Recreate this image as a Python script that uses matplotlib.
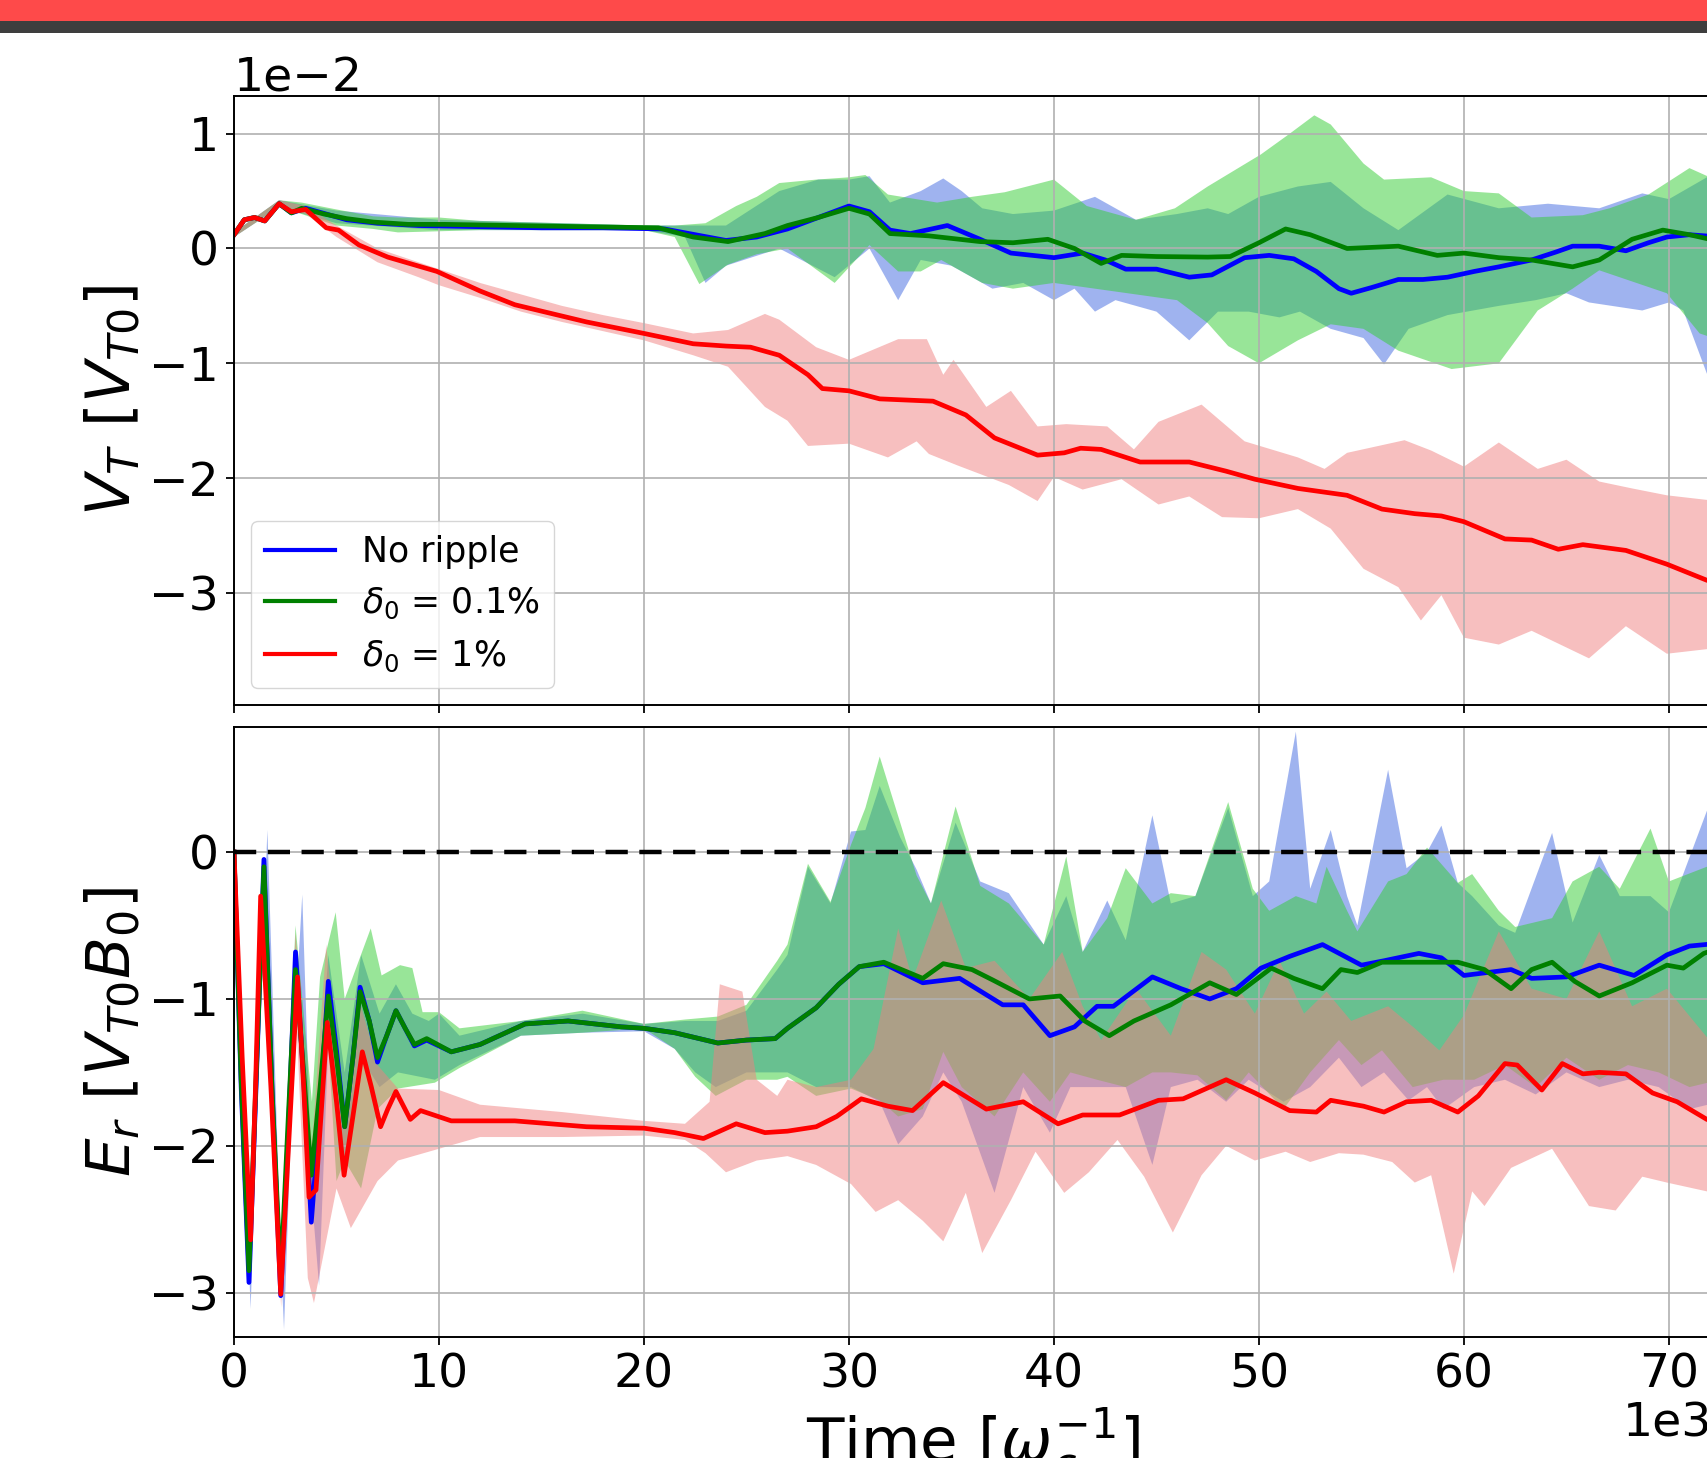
import numpy as np
import matplotlib
matplotlib.use("Agg")
import matplotlib.pyplot as plt
from matplotlib.patches import Rectangle

# ---------------- data (time in units of 1e3 / omega_c) ----------------
# Top panel: V_T in units of 1e-2 V_T0
t_vt_blue = [0, 0.5, 1.0, 1.5, 2.2, 2.8, 3.5, 4.5, 5.5, 7, 9, 12, 15, 18, 21, 22.5, 24, 25.5, 27, 28.5, 30, 31,
             32, 33, 34.8, 36.4, 37.9, 40, 41.4, 42.5, 43.5, 45, 46.6, 47.7, 49.3, 50.5, 51.7, 52.8, 53.9, 54.5,
             55.5, 56.8, 58, 59.2, 60.5, 61.7, 63.3, 64.5, 65.3, 66.6, 67.9, 69, 69.9, 71, 72.5]
vt_blue = [0.12, 0.25, 0.27, 0.24, 0.39, 0.31, 0.35, 0.3, 0.25, 0.22, 0.2, 0.19, 0.18, 0.18, 0.17, 0.12, 0.07,
           0.1, 0.17, 0.27, 0.37, 0.32, 0.16, 0.13, 0.2, 0.08, -0.04, -0.08, -0.04, -0.1, -0.18, -0.18, -0.25,
           -0.23, -0.08, -0.06, -0.09, -0.2, -0.35, -0.39, -0.34, -0.27, -0.27, -0.25, -0.2, -0.16, -0.1, -0.03,
           0.02, 0.02, -0.02, 0.05, 0.1, 0.12, 0.1]

t_vt_green = [0, 0.5, 1.0, 1.5, 2.2, 2.8, 3.3, 4.4, 5.5, 6.8, 8.5, 10.3, 13.7, 17, 20.7, 22.4, 24.1, 25.9, 27,
              28.5, 30, 31, 32, 33.9, 36.4, 38, 39.7, 41, 42.3, 43.3, 45, 47.5, 48.6, 50, 51.3, 52.5, 54.3, 56.8,
              58.7, 60, 61.7, 63.3, 65.3, 66.6, 68.2, 69.7, 71, 72.5]
vt_green = [0.12, 0.25, 0.27, 0.24, 0.39, 0.31, 0.35, 0.3, 0.26, 0.23, 0.21, 0.21, 0.2, 0.19, 0.18, 0.1, 0.06,
            0.13, 0.2, 0.27, 0.35, 0.3, 0.13, 0.11, 0.06, 0.05, 0.08, 0.0, -0.13, -0.06, -0.07, -0.075, -0.07,
            0.05, 0.17, 0.12, 0.0, 0.02, -0.06, -0.04, -0.08, -0.1, -0.16, -0.1, 0.08, 0.16, 0.12, 0.06]

t_vt_red = [0, 0.5, 1.0, 1.5, 2.2, 2.8, 3.5, 4.5, 5.1, 6.1, 7.5, 9.9, 12, 13.7, 17.2, 20, 22.4, 24, 25.2, 26.6,
            28, 28.7, 30, 31.5, 34.1, 35.7, 37.1, 39.2, 40.5, 41.3, 42.3, 44.2, 46.6, 48.4, 49.8, 51.9, 54.3, 56,
            57.6, 58.9, 60, 62, 63.3, 64.6, 65.8, 67.9, 69.9, 71.85, 72.5]
vt_red = [0.12, 0.25, 0.27, 0.24, 0.39, 0.32, 0.34, 0.18, 0.16, 0.03, -0.075, -0.2, -0.37, -0.49, -0.64, -0.74,
          -0.83, -0.85, -0.86, -0.93, -1.1, -1.22, -1.24, -1.31, -1.33, -1.45, -1.65, -1.8, -1.78, -1.74, -1.75,
          -1.86, -1.86, -1.94, -2.01, -2.09, -2.15, -2.27, -2.31, -2.33, -2.38, -2.53, -2.54, -2.62, -2.58,
          -2.63, -2.75, -2.89, -2.92]

# spread bands, top panel (upper edge and lower edge)
t_vt_blue_hi = [0, 2.2, 5, 10, 20, 22, 24, 26.6, 28.5, 30, 31, 32, 33.5, 34.6, 35.5, 36.5, 38, 40, 42, 43, 44, 46,
                47.5, 48.5, 50, 51.9, 53.5, 55.1, 56.8, 59.2, 61.7, 64.1, 66.6, 68.7, 70, 71.85, 72.5]
vt_blue_hi = [0.14, 0.42, 0.33, 0.25, 0.2, 0.2, 0.2, 0.5, 0.6, 0.6, 0.63, 0.4, 0.5, 0.61, 0.5, 0.35, 0.3, 0.33,
              0.45, 0.35, 0.25, 0.3, 0.35, 0.3, 0.45, 0.54, 0.58, 0.35, 0.16, 0.47, 0.35, 0.39, 0.35, 0.48, 0.43,
              0.62, 0.6]
t_vt_blue_lo = [0, 2.2, 5, 10, 20, 22, 23, 24, 26.6, 29.3, 31, 32.4, 33.5, 35, 37, 38.5, 40, 41, 42, 43, 45, 46.6,
                48, 49.5, 51, 52, 53.5, 55.1, 56.1, 57.3, 59.2, 61.7, 63.5, 65, 66.1, 68.7, 70, 70.7, 71.85, 72.5]
vt_blue_lo = [0.1, 0.36, 0.22, 0.16, 0.16, 0.1, -0.3, -0.15, 0.0, -0.25, 0.0, -0.45, -0.1, -0.15, -0.35, -0.3,
              -0.45, -0.35, -0.55, -0.45, -0.55, -0.8, -0.55, -0.55, -0.6, -0.55, -0.7, -0.78, -1.01, -0.7, -0.58,
              -0.5, -0.45, -0.39, -0.47, -0.54, -0.47, -0.54, -1.09, -1.1]

t_vt_green_hi = [0, 2.2, 3.3, 5, 6.8, 8, 10, 12, 16, 20, 21.5, 23, 24.5, 25.5, 26.6, 28.4, 30, 30.8, 31.9, 34.3,
                 36, 37.6, 40, 41.6, 44, 45.9, 47.5, 50.1, 51.5, 52.7, 53.5, 55.1, 56.1, 58.4, 60, 61.7, 63.3,
                 65.8, 67.1, 69, 71, 72.5]
vt_green_hi = [0.14, 0.42, 0.4, 0.34, 0.28, 0.27, 0.27, 0.24, 0.22, 0.2, 0.2, 0.22, 0.37, 0.45, 0.57, 0.6, 0.62,
               0.64, 0.47, 0.4, 0.45, 0.49, 0.6, 0.37, 0.25, 0.35, 0.54, 0.82, 1.0, 1.16, 1.08, 0.74, 0.6, 0.62,
               0.5, 0.48, 0.27, 0.29, 0.35, 0.47, 0.7, 0.58]
t_vt_green_lo = [0, 2.2, 3.3, 5, 6.8, 8, 10, 12, 16, 20, 21.5, 22.7, 24.1, 25.5, 27, 29.3, 31, 32.4, 33.5, 34.5,
                 36.5, 38, 40, 42, 44, 46, 47.5, 48.5, 50, 51.9, 53.5, 55.1, 56.8, 59.4, 61.7, 63.6, 65.3, 66.6,
                 69.9, 71.5, 72.5]
vt_green_lo = [0.1, 0.36, 0.3, 0.2, 0.17, 0.14, 0.15, 0.16, 0.16, 0.16, 0.1, -0.31, -0.14, -0.05, 0.0, -0.3, 0.03,
               -0.2, -0.2, -0.1, -0.3, -0.35, -0.3, -0.35, -0.4, -0.45, -0.65, -0.85, -1.0, -0.8, -0.66, -0.7,
               -0.89, -1.05, -1.0, -0.54, -0.35, -0.19, -0.39, -0.74, -0.8]

t_vt_red_hi = [0, 2.2, 3.5, 5, 7, 9, 10, 12, 14, 16, 18, 20, 22.4, 24.1, 25.9, 26.6, 28.4, 30, 32.4, 33.8, 34.6,
               35.1, 36.7, 37.9, 39.2, 40.6, 42.6, 43.9, 45.1, 47.2, 49.3, 51.9, 53.2, 54.3, 57.1, 58.4, 60, 61.7,
               63.6, 65, 66.6, 68.2, 69.9, 71.85, 72.5]
vt_red_hi = [0.14, 0.42, 0.37, 0.2, 0.0, -0.12, -0.18, -0.3, -0.4, -0.5, -0.58, -0.65, -0.74, -0.71, -0.57, -0.62,
             -0.86, -0.97, -0.79, -0.79, -1.1, -0.97, -1.38, -1.24, -1.55, -1.53, -1.55, -1.75, -1.51, -1.36,
             -1.68, -1.82, -1.92, -1.78, -1.67, -1.76, -1.9, -1.69, -1.92, -1.84, -2.03, -2.09, -2.15, -2.19, -2.2]
t_vt_red_lo = [0, 2.2, 3.5, 5, 7, 9, 10, 12, 14, 16, 18, 20, 22.4, 24.1, 25.9, 27, 28, 30, 31.9, 33.3, 33.9, 35.3,
               37.8, 39.2, 40, 41.4, 43.3, 45.1, 46.6, 48.2, 50, 51.9, 53.5, 55.1, 56.8, 57.9, 58.9, 60, 61.7,
               63.3, 66.1, 67.9, 69.9, 71.85, 72.5]
vt_red_lo = [0.1, 0.36, 0.3, 0.1, -0.12, -0.25, -0.32, -0.43, -0.55, -0.64, -0.72, -0.8, -0.93, -1.03, -1.38,
             -1.5, -1.72, -1.7, -1.82, -1.68, -1.79, -1.89, -2.06, -2.2, -1.99, -2.1, -2.01, -2.23, -2.16, -2.34,
             -2.35, -2.27, -2.44, -2.79, -2.95, -3.24, -3.02, -3.39, -3.45, -3.33, -3.57, -3.29, -3.53, -3.49, -3.5]

# Bottom panel: E_r in units of V_T0 B_0
t_er_blue = [0, 0.35, 0.73, 1.1, 1.46, 1.85, 2.28, 2.65, 3.0, 3.4, 3.77, 4.2, 4.6, 5.0, 5.4, 5.8, 6.15, 6.6, 7.0,
             7.45, 7.9, 8.35, 8.8, 9.4, 10.6, 12, 14.2, 16.3, 18.9, 20, 21.5, 23.6, 25, 26.4, 27, 28.4, 29.5,
             30.5, 31.7, 33.6, 35.4, 37.5, 38.5, 39.8, 41, 42.1, 42.9, 44.8, 46.2, 47.6, 48.9, 50.1, 51.5, 53.1,
             55, 56.1, 57.8, 58.9, 60, 62.3, 63.3, 65, 66.6, 68.3, 69.9, 71, 72.5]
er_blue = [0.0, -1.6, -2.93, -1.5, -0.05, -1.6, -3.02, -1.9, -0.68, -1.55, -2.52, -1.75, -0.88, -1.35, -1.87,
           -1.4, -0.92, -1.15, -1.43, -1.25, -1.08, -1.2, -1.32, -1.28, -1.36, -1.31, -1.17, -1.15, -1.19, -1.2,
           -1.23, -1.3, -1.28, -1.27, -1.2, -1.06, -0.9, -0.78, -0.76, -0.89, -0.86, -1.04, -1.04, -1.25, -1.19,
           -1.05, -1.05, -0.85, -0.93, -1.0, -0.93, -0.79, -0.71, -0.63, -0.77, -0.74, -0.69, -0.72, -0.84, -0.8,
           -0.86, -0.85, -0.77, -0.84, -0.7, -0.64, -0.62]

t_er_green = [0, 0.35, 0.73, 1.1, 1.46, 1.85, 2.28, 2.65, 3.0, 3.4, 3.77, 4.2, 4.6, 5.0, 5.4, 5.8, 6.15, 6.6, 7.0,
              7.45, 7.9, 8.35, 8.8, 9.4, 10.6, 12, 14.2, 16.3, 18.9, 20, 21.5, 23.6, 25, 26.4, 27, 28.4, 29.5,
              30.5, 31.7, 33.6, 34.6, 36, 37, 38.8, 40.3, 41.5, 42.7, 43.9, 45.7, 47.6, 48.9, 50.6, 51.7, 53.1, 54,
              54.8, 56, 57.6, 59.7, 61, 62.3, 63.3, 64.3, 65.4, 66.6, 68.2, 69.9, 70.7, 71.7, 72.5]
er_green = [0.0, -1.55, -2.85, -1.45, -0.1, -1.6, -2.9, -1.8, -0.8, -1.5, -2.2, -1.6, -0.98, -1.4, -1.87, -1.4,
            -0.95, -1.15, -1.4, -1.25, -1.08, -1.2, -1.31, -1.27, -1.36, -1.31, -1.17, -1.15, -1.19, -1.2, -1.23,
            -1.3, -1.28, -1.27, -1.2, -1.06, -0.9, -0.78, -0.75, -0.86, -0.76, -0.8, -0.87, -1.0, -0.98, -1.15,
            -1.25, -1.15, -1.04, -0.89, -0.97, -0.79, -0.86, -0.93, -0.8, -0.82, -0.75, -0.75, -0.75, -0.8,
            -0.93, -0.8, -0.75, -0.88, -0.98, -0.89, -0.77, -0.79, -0.69, -0.65]

t_er_red = [0, 0.4, 0.81, 1.05, 1.3, 1.8, 2.28, 2.7, 3.1, 3.4, 3.66, 4.0, 4.55, 5.0, 5.37, 5.8, 6.26, 6.7, 7.15,
            7.5, 7.9, 8.6, 9.1, 10.6, 13.7, 17.2, 20, 21.5, 22.9, 24.5, 25.9, 27, 28.4, 29.4, 30.6, 31.9, 33.1,
            34.6, 36.7, 38.5, 40.2, 41.4, 43.2, 45.1, 46.3, 48.4, 49.8, 51.5, 52.8, 53.5, 55.1, 56.1, 57.2, 58.4,
            59.7, 60.7, 62, 62.6, 63.8, 64.8, 65.8, 66.6, 67.9, 69.2, 70.4, 71.85, 72.5]
er_red = [0.0, -1.4, -2.64, -1.6, -0.3, -1.6, -3.01, -1.9, -0.85, -1.6, -2.35, -2.3, -1.16, -1.7, -2.2, -1.8,
          -1.36, -1.6, -1.87, -1.75, -1.63, -1.82, -1.76, -1.83, -1.83, -1.87, -1.88, -1.91, -1.95, -1.85, -1.91,
          -1.9, -1.87, -1.8, -1.68, -1.73, -1.76, -1.57, -1.75, -1.7, -1.85, -1.79, -1.79, -1.69, -1.68, -1.55,
          -1.64, -1.76, -1.77, -1.69, -1.73, -1.77, -1.7, -1.69, -1.77, -1.66, -1.44, -1.45, -1.62, -1.44, -1.51,
          -1.5, -1.51, -1.64, -1.7, -1.82, -1.85]

# spread bands, bottom panel
t_er_blue_hi = [0, 0.8, 1.63, 2.3, 3.33, 3.8, 4.6, 5.4, 6.2, 7.1, 7.9, 8.7, 9.5, 10, 11, 14, 17, 20, 22, 23.6, 25,
                26.5, 27, 28, 29.1, 30.1, 30.8, 31.5, 32.5, 33.3, 34, 35.2, 36.4, 37.8, 39.5, 40.6, 41.4, 42.6,
                43.5, 44.8, 45.7, 46.9, 48.5, 49.7, 50.5, 51.8, 52.5, 53.5, 54.3, 54.8, 56.3, 57.2, 58.2, 58.9,
                59.7, 60.4, 61.7, 62.5, 64.3, 65.3, 66.6, 67.6, 69.1, 70, 71.85, 72.5]
er_blue_hi = [0.0, -2.75, 0.15, -2.8, -0.29, -2.3, -0.7, -1.5, -0.7, -1.1, -0.9, -1.1, -1.15, -1.1, -1.25, -1.15,
              -1.1, -1.17, -1.15, -1.15, -1.08, -0.8, -0.7, -0.1, -0.35, 0.14, 0.15, 0.45, 0.1, -0.12, -0.35, 0.2,
              -0.2, -0.28, -0.63, -0.3, -0.68, -0.33, -0.6, 0.25, -0.35, -0.3, 0.3, -0.3, -0.2, 0.82, -0.25, 0.15,
              -0.3, -0.5, 0.56, -0.11, 0.0, 0.18, -0.21, -0.3, -0.5, -0.55, 0.13, -0.48, -0.02, -0.3, -0.3, -0.41,
              0.28, 0.3]
t_er_blue_lo = [0, 0.81, 1.5, 2.44, 3.0, 4.15, 4.6, 5.4, 6.2, 7.1, 8.0, 9.8, 11, 14, 17, 20, 21.5, 22.5, 23.5, 25,
                27, 28.4, 30.1, 31.5, 32.4, 33.6, 34.6, 35.5, 37.1, 38.5, 39.8, 40.8, 42.1, 43.5, 44.8, 45.7, 47,
                48.4, 49.5, 51.2, 52.5, 53.9, 55, 56.1, 57.3, 58.2, 59, 60.5, 62, 63.5, 65, 66.6, 68, 69.5, 71,
                72.5]
er_blue_lo = [0.0, -3.11, -0.3, -3.25, -1.0, -2.95, -1.3, -2.1, -1.4, -1.6, -1.5, -1.55, -1.45, -1.25, -1.23,
              -1.22, -1.34, -1.5, -1.6, -1.5, -1.5, -1.6, -1.6, -1.7, -1.99, -1.8, -1.5, -1.7, -2.32, -1.6, -1.91,
              -1.6, -1.6, -1.6, -2.13, -1.6, -1.55, -1.7, -1.55, -1.7, -1.6, -1.4, -1.6, -1.5, -1.69, -1.6, -1.75,
              -1.6, -1.55, -1.65, -1.5, -1.6, -1.55, -1.6, -1.75, -1.7]

t_er_green_hi = [0, 0.8, 1.5, 2.3, 3.0, 3.8, 4.2, 4.96, 5.4, 6.67, 7.2, 8.1, 8.7, 9.2, 10, 11, 14, 17, 20, 22, 23.6,
                 25, 26.5, 27, 28, 29.1, 30.1, 30.8, 31.5, 32.5, 33.3, 34, 35.2, 36.4, 37.8, 39.5, 40.6, 41.4, 42.6,
                 43.5, 44.8, 45.7, 46.9, 48.5, 49.7, 50.5, 51.8, 52.8, 53.3, 54.3, 54.8, 56.3, 57.2, 58.2, 59.7,
                 60.4, 61.7, 62.5, 64.3, 65.3, 66.6, 67.6, 69.1, 70, 71.85, 72.5]
er_green_hi = [0.0, -2.7, -0.05, -2.75, -0.5, -1.7, -0.85, -0.41, -1.0, -0.52, -0.84, -0.77, -0.79, -1.09, -1.09,
               -1.2, -1.15, -1.08, -1.17, -1.14, -1.12, -1.04, -0.74, -0.63, -0.08, -0.34, 0.05, 0.3, 0.65, 0.2,
               -0.16, -0.35, 0.31, -0.23, -0.35, -0.63, -0.03, -0.68, -0.45, -0.11, -0.35, -0.28, -0.3, 0.34,
               -0.25, -0.4, -0.3, -0.35, -0.1, -0.4, -0.54, -0.2, -0.15, 0.03, -0.21, -0.15, -0.4, -0.51, -0.45,
               -0.2, -0.1, -0.25, 0.16, -0.2, -0.1, 0.0]
t_er_green_lo = [0, 0.8, 1.5, 2.3, 3.0, 3.8, 4.6, 5.0, 5.4, 6.2, 7.0, 8.0, 9.8, 11, 14, 17, 20, 21.5, 22.5, 23.5,
                 25, 26.5, 27, 28.4, 30.1, 31.5, 32.4, 33.6, 34.6, 35.5, 37.1, 38.5, 39.8, 40.8, 42.1, 43.5, 44.8,
                 45.7, 47, 48.4, 49.5, 51.2, 52.5, 53.9, 55, 56, 57.5, 59, 60.5, 62, 63.5, 65, 66.6, 68, 69.5, 71,
                 72.5]
er_green_lo = [0.0, -2.95, -0.2, -3.05, -0.9, -2.4, -1.3, -2.24, -2.1, -2.29, -1.75, -1.61, -1.57, -1.47, -1.25,
               -1.23, -1.2, -1.34, -1.53, -1.66, -1.55, -1.55, -1.53, -1.66, -1.61, -1.69, -1.8, -1.75, -1.36, -1.6,
               -1.8, -1.5, -1.7, -1.5, -1.55, -1.6, -1.5, -1.5, -1.52, -1.69, -1.5, -1.75, -1.5, -1.28, -1.45,
               -1.35, -1.6, -1.55, -1.55, -1.45, -1.6, -1.4, -1.55, -1.45, -1.5, -1.6, -1.55]

t_er_red_hi = [0, 0.8, 1.3, 2.3, 3.0, 3.8, 4.5, 5.4, 6.0, 7, 8, 10, 12, 16, 20, 22, 23.2, 23.7, 24.8, 25.5, 26.5, 27,
               28.4, 30.1, 31.2, 32.4, 33.1, 34.5, 35.7, 37.1, 38.8, 40.4, 41.4, 42.3, 44, 45.7, 47.2, 48.4, 49.8,
               51, 52.2, 53.3, 54.5, 56.3, 57.6, 58.8, 60, 61.7, 63.3, 65, 66.6, 68.2, 69.9, 71.85, 72.5]
er_red_hi = [0.0, -2.5, -0.25, -2.85, -0.55, -2.0, -0.63, -1.9, -0.95, -1.45, -1.61, -1.62, -1.72, -1.77, -1.83,
             -1.85, -1.7, -0.9, -0.95, -1.55, -1.66, -1.55, -1.6, -1.55, -1.34, -0.52, -0.87, -0.33, -0.79, -0.74,
             -1.0, -0.68, -1.05, -1.28, -0.93, -1.25, -0.68, -0.8, -1.1, -0.74, -1.1, -0.95, -1.15, -1.05, -1.2,
             -1.35, -1.11, -0.54, -0.93, -1.0, -0.54, -1.05, -0.93, -1.26, -1.3]
t_er_red_lo = [0, 0.8, 1.3, 2.3, 3.0, 3.6, 3.9, 5.0, 5.7, 7, 8, 10, 12, 16, 20, 22, 23, 24, 25.5, 27, 28.4, 30.1,
               31.3, 32.4, 33.6, 34.6, 35.7, 36.5, 37.9, 39.1, 40.5, 41.7, 43.1, 44.4, 45.8, 47.2, 48.4, 49.8,
               51.3, 52.5, 53.9, 55.1, 56.5, 57.6, 58.4, 59.5, 60.4, 61, 62.3, 64.3, 66.1, 67.4, 68.7, 69.9, 71.85,
               72.5]
er_red_lo = [0.0, -2.75, -0.4, -3.1, -1.0, -2.9, -3.07, -2.29, -2.56, -2.24, -2.1, -2.02, -1.94, -1.94, -1.93,
             -1.96, -2.05, -2.18, -2.1, -2.07, -2.13, -2.26, -2.45, -2.37, -2.51, -2.65, -2.32, -2.73, -2.37, -2.04,
             -2.32, -2.18, -1.96, -2.21, -2.59, -2.2, -2.0, -2.1, -2.04, -2.11, -2.05, -2.06, -2.11, -2.25, -2.2,
             -2.87, -2.31, -2.41, -2.15, -2.02, -2.41, -2.44, -2.21, -2.25, -2.31, -2.3]

legend_labels = ["No ripple", r"$\delta_0$ = 0.1%", r"$\delta_0$ = 1%"]
line_colors = ["blue", "green", "red"]
fill_colors = ["royalblue", "limegreen", "lightcoral"]
x_ticks = [0, 10, 20, 30, 40, 50, 60, 70]
vt_ticks = [-3, -2, -1, 0, 1]
er_ticks = [-3, -2, -1, 0]

T_SCALE = 1e3
V_SCALE = 1e-2

# ---------------- figure ----------------
W, H = 1707, 1458
fig = plt.figure(figsize=(W / 100, H / 100), dpi=100)
fig.add_artist(Rectangle((0, 1 - 21 / H), 1, 21 / H, transform=fig.transFigure,
                         facecolor="#fe4a4a", edgecolor="none"))
fig.add_artist(Rectangle((0, 1 - 33 / H), 1, 12 / H, transform=fig.transFigure,
                         facecolor="#3e3e3e", edgecolor="none"))

left = 234 / W
width = (1712 - 234) / W
ax1 = fig.add_axes([left, 1 - 705.4 / H, width, 609.6 / H])
ax2 = fig.add_axes([left, 1 - 1336.8 / H, width, 609.6 / H], sharex=ax1)

TICK_FS = 34
LABEL_FS = 44
LW = 3.4

# top panel fills
top_bands = [
    (t_vt_blue_hi, vt_blue_hi, t_vt_blue_lo, vt_blue_lo),
    (t_vt_green_hi, vt_green_hi, t_vt_green_lo, vt_green_lo),
    (t_vt_red_hi, vt_red_hi, t_vt_red_lo, vt_red_lo),
]
for (th, hi, tl, lo), fc in zip(top_bands, fill_colors):
    xs = np.concatenate([np.asarray(th) * T_SCALE, np.asarray(tl)[::-1] * T_SCALE])
    ys = np.concatenate([np.asarray(hi) * V_SCALE, np.asarray(lo)[::-1] * V_SCALE])
    ax1.fill(xs, ys, color=fc, alpha=0.5, lw=0)

top_lines = [(t_vt_blue, vt_blue), (t_vt_green, vt_green), (t_vt_red, vt_red)]
for (t, v), lc, lab in zip(top_lines, line_colors, legend_labels):
    ax1.plot(np.asarray(t) * T_SCALE, np.asarray(v) * V_SCALE, color=lc, lw=LW, label=lab,
             solid_joinstyle="round")

# bottom panel fills
bot_bands = [
    (t_er_blue_hi, er_blue_hi, t_er_blue_lo, er_blue_lo),
    (t_er_green_hi, er_green_hi, t_er_green_lo, er_green_lo),
    (t_er_red_hi, er_red_hi, t_er_red_lo, er_red_lo),
]
for (th, hi, tl, lo), fc in zip(bot_bands, fill_colors):
    xs = np.concatenate([np.asarray(th) * T_SCALE, np.asarray(tl)[::-1] * T_SCALE])
    ys = np.concatenate([np.asarray(hi), np.asarray(lo)[::-1]])
    ax2.fill(xs, ys, color=fc, alpha=0.5, lw=0)

bot_lines = [(t_er_blue, er_blue), (t_er_green, er_green), (t_er_red, er_red)]
for (t, v), lc in zip(bot_lines, line_colors):
    ax2.plot(np.asarray(t) * T_SCALE, np.asarray(v), color=lc, lw=LW, solid_joinstyle="round")

ax2.axhline(0, color="black", lw=3.2, linestyle=(0, (5, 2.6)))

# axes styling
ax1.set_xlim(0, 72.1 * T_SCALE)
ax1.set_ylim(-3.98 * V_SCALE, 1.33 * V_SCALE)
ax2.set_ylim(-3.30, 0.85)
ax1.set_yticks([v * V_SCALE for v in vt_ticks])
ax2.set_yticks(er_ticks)
ax2.set_xticks([x * T_SCALE for x in x_ticks])
ax1.ticklabel_format(axis="y", style="sci", scilimits=(-2, -2))
ax2.ticklabel_format(axis="x", style="sci", scilimits=(3, 3))

for ax in (ax1, ax2):
    ax.grid(True, color="#b0b0b0", lw=1.2)
    ax.tick_params(labelsize=TICK_FS, length=6, width=1.3, pad=5)
    for sp in ax.spines.values():
        sp.set_linewidth(1.4)
    ax.yaxis.get_offset_text().set_fontsize(TICK_FS)
    ax.xaxis.get_offset_text().set_fontsize(TICK_FS)
ax1.tick_params(labelbottom=False)

ax1.set_ylabel(r"$V_T\ [V_{T0}]$", fontsize=LABEL_FS)
ax2.set_ylabel(r"$E_r\ [V_{T0}B_0]$", fontsize=LABEL_FS)
ax1.yaxis.set_label_coords(-0.061, 0.5)
ax2.yaxis.set_label_coords(-0.061, 0.5)
ax2.set_xlabel(r"Time $[\omega_c^{-1}]$", fontsize=LABEL_FS, labelpad=6)

leg = ax1.legend(loc="lower left", fontsize=25)
for ln in leg.get_lines():
    ln.set_linewidth(3)

fig.savefig("out.png", dpi=100)
